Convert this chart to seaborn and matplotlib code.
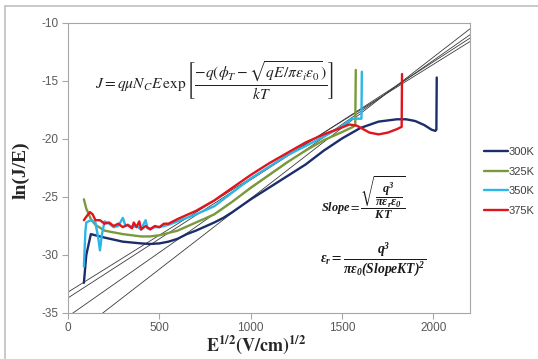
import numpy as np
import pandas as pd
import matplotlib
matplotlib.use('Agg')
import matplotlib.pyplot as plt
import seaborn as sns
from matplotlib.lines import Line2D

# ---- data ----
x300 = [87, 100, 125, 150, 200, 300, 400, 450, 500, 550, 600, 650, 700, 800, 850, 900,
        1000, 1100, 1200, 1300, 1400, 1500, 1600, 1700, 1800, 1850, 1900, 1950, 1990, 2010, 2016, 2018]
y300 = [-32.4, -30.0, -28.2, -28.3, -28.5, -28.85, -29.0, -29.05, -29.0, -28.85, -28.6, -28.2, -27.9,
        -27.2, -26.8, -26.3, -25.2, -24.2, -23.2, -22.2, -21.0, -19.95, -19.05, -18.5, -18.3, -18.3,
        -18.45, -18.8, -19.2, -19.3, -19.2, -14.7]

x325 = [87, 100, 125, 150, 200, 300, 400, 450, 500, 600, 700, 800, 900, 1000, 1100, 1200, 1300,
        1400, 1500, 1560, 1572, 1575]
y325 = [-25.2, -26.0, -26.9, -27.4, -27.9, -28.2, -28.4, -28.4, -28.3, -27.9, -27.2, -26.5, -25.4,
        -24.2, -23.1, -22.0, -21.0, -20.1, -19.4, -18.95, -18.8, -14.05]

x350 = [87, 95, 100, 125, 150, 165, 175, 185, 200, 225, 250, 275, 300, 315, 330, 350, 375, 400,
        415, 425, 435, 450, 475, 500, 550, 600, 700, 800, 900, 1000, 1100, 1200, 1300, 1400, 1500,
        1553, 1606, 1608]
y350 = [-31.0, -28.0, -27.2, -27.0, -27.2, -28.5, -29.6, -28.3, -27.1, -27.3, -27.6, -27.5, -26.8,
        -27.5, -27.4, -27.6, -27.5, -27.8, -27.3, -27.0, -27.7, -27.7, -27.6, -27.6, -27.4, -27.1,
        -26.5, -25.8, -24.6, -23.4, -22.4, -21.4, -20.6, -19.8, -18.9, -18.25, -18.25, -14.2]

x375 = [87, 100, 120, 135, 150, 175, 200, 225, 250, 275, 300, 325, 350, 360, 375, 390, 400, 425,
        450, 475, 500, 525, 550, 600, 700, 800, 900, 1000, 1100, 1200, 1300, 1400, 1500, 1540, 1580,
        1610, 1650, 1700, 1750, 1800, 1826, 1828]
y375 = [-27.0, -26.7, -26.3, -26.5, -27.0, -27.0, -27.3, -27.2, -27.5, -27.3, -27.6, -27.4, -27.7,
        -27.2, -27.6, -27.1, -27.8, -27.5, -27.8, -27.5, -27.6, -27.3, -27.3, -26.9, -26.2, -25.3,
        -24.2, -23.1, -22.1, -21.2, -20.3, -19.6, -19.0, -18.75, -18.85, -19.1, -19.45, -19.6, -19.45,
        -19.15, -18.95, -14.4]

series_names = ['300K', '325K', '350K', '375K']
series_colors = ['#1B2D6B', '#7A9A3A', '#2CB5E8', '#E0141C']

fit_intercepts = [-33.2, -33.7, -35.3, -37.32]
fit_slopes = [0.00982, 0.01018, 0.01104, 0.01219]
fit_x_range = [0, 2200]

x_ticks = [0, 500, 1000, 1500, 2000]
y_ticks = [-35, -30, -25, -20, -15, -10]

# ---- build table ----
frames = []
for name, xs, ys in zip(series_names, [x300, x325, x350, x375], [y300, y325, y350, y375]):
    frames.append(pd.DataFrame({'x': xs, 'y': ys, 'T': name}))
df = pd.concat(frames, ignore_index=True)

sns.set_style('white')
plt.rcParams['font.family'] = ['Liberation Sans', 'DejaVu Sans']
plt.rcParams['mathtext.fontset'] = 'custom'
plt.rcParams['mathtext.rm'] = 'STIXGeneral'
plt.rcParams['mathtext.it'] = 'STIXGeneral:italic'
plt.rcParams['mathtext.bf'] = 'Liberation Serif:bold:italic'   # bold italic for the formulas
plt.rcParams['mathtext.sf'] = 'STIXGeneral:bold'               # upright bold for the x title
plt.rcParams['mathtext.fallback'] = 'stix'
plt.rcParams['axes.unicode_minus'] = False

W, H = 538, 359
fig = plt.figure(figsize=(W / 100, H / 100), dpi=100)
ax = fig.add_axes([68 / W, 1 - 313 / H, (470 - 68) / W, (313 - 23) / H])

# fitted straight lines
fx = np.array(fit_x_range, dtype=float)
for a, b in zip(fit_intercepts, fit_slopes):
    ax.plot(fx, a + b * fx, color='#3A3A3A', lw=0.6, zorder=1)

sns.lineplot(data=df, x='x', y='y', hue='T', palette=dict(zip(series_names, series_colors)),
             sort=False, estimator=None, lw=1.7, legend=False, ax=ax, zorder=2)

ax.set_xlim(0, 2200)
ax.set_ylim(-35, -10)
ax.set_xticks(x_ticks)
ax.set_yticks(y_ticks)
ax.set_xlabel('')
ax.set_ylabel('')
ax.tick_params(direction='out', length=4, width=0.8, color='#A6A6A6', labelsize=8.5,
               labelcolor='#595959', left=True, bottom=True, pad=2.5)
for s in ax.spines.values():
    s.set_color('#A6A6A6')
    s.set_linewidth(0.8)

# equations
ax.text(800, -15.0,
        r'$J = q\mu N_C E\,\exp\left[\dfrac{-q(\phi_T - \sqrt{qE/\pi\varepsilon_i\varepsilon_0})}{kT}\right]$',
        fontsize=11.2, ha='center', va='center', color='#222222')
ax.text(1618, -25.1,
        r'$\mathbf{Slope} = \dfrac{\sqrt{\dfrac{\mathbf{q^3}}{\mathbf{\pi\varepsilon_r\varepsilon_0}}}}{\mathbf{KT}}$',
        fontsize=8.8, ha='center', va='center', color='#1A1A1A')
ax.text(1668, -30.4,
        r'$\mathbf{\varepsilon_r} = \dfrac{\mathbf{q^3}}{\mathbf{\pi\varepsilon_0(SlopeKT)^2}}$',
        fontsize=9.8, ha='center', va='center', color='#1A1A1A')

# axis titles
fig.text(21 / W, 1 - 170 / H, 'ln(J/E)', rotation=90, family='Liberation Serif',
         weight='bold', fontsize=14, ha='center', va='center')
fig.text(256 / W, 1 - 345 / H, r'$\mathsf{E^{1/2}(V/cm)^{1/2}}$', fontsize=13,
         ha='center', va='center')

# legend
handles = [Line2D([0], [0], color=c, lw=1.7) for c in series_colors]
fig.legend(handles, series_names, loc='center left', bbox_to_anchor=(484 / W, 1 - 181.5 / H),
           bbox_transform=fig.transFigure, frameon=False, fontsize=8, handlelength=2.2,
           handletextpad=0.05, labelspacing=0.85, borderpad=0, borderaxespad=0,
           labelcolor='#404040')

# outer chart frame
fig.add_artist(Line2D([5 / W, 5 / W], [0, 1 - 6 / H], transform=fig.transFigure,
                      color='#C0C0C0', lw=1.2))
fig.add_artist(Line2D([5 / W, 1], [1 - 6 / H, 1 - 6 / H], transform=fig.transFigure,
                      color='#C0C0C0', lw=1.2))

fig.savefig('out.png', dpi=100)
